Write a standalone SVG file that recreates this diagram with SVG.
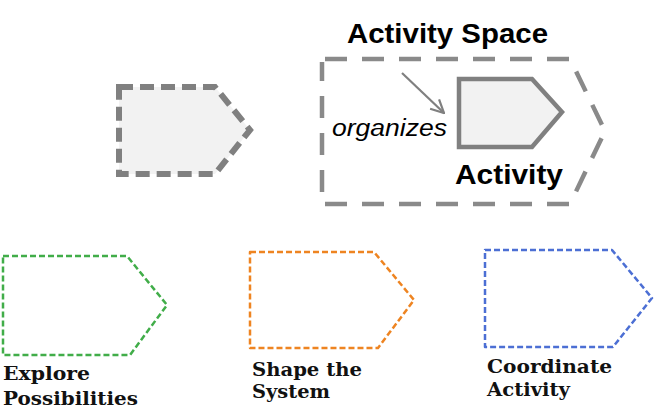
<svg xmlns="http://www.w3.org/2000/svg" width="654" height="412" viewBox="0 0 654 412">
  <style>
    .big { font-family: "Liberation Sans", Arial, sans-serif; font-weight: bold; font-size: 28px; fill: #000; }
    .ital { font-family: "Liberation Sans", Arial, sans-serif; font-style: italic; font-size: 23px; fill: #000; }
    .lbl { font-family: "DejaVu Serif", "Liberation Serif", serif; font-weight: bold; font-size: 18px; fill: #111; }
    .small { fill: none; stroke-width: 2.5; stroke-dasharray: 6 3; stroke-linejoin: round; }
  </style>
  <defs>
    <marker id="open" viewBox="0 0 16 16" refX="15" refY="8" markerWidth="16" markerHeight="16" markerUnits="userSpaceOnUse" orient="auto">
      <path d="M2,1.5 L15,8 L2,14.5" fill="none" stroke="#808080" stroke-width="2.2"/>
    </marker>
  </defs>

  <g id="generic-activity">
    <path d="M119,87 L215,87 L250,130 L215,174 L119,174 Z" fill="#f2f2f2" stroke="#808080" stroke-width="6" stroke-dasharray="14 7"/>
  </g>

  <g id="activity-space">
    <path d="M325,59 L570,59 L605,131 L570,204 L322,204 L322,62" fill="none" stroke="#8a8a8a" stroke-width="4.5" stroke-dasharray="22 15" stroke-linejoin="round"/>
    <text class="big" x="347" y="43" textLength="201" lengthAdjust="spacingAndGlyphs">Activity Space</text>
  </g>

  <g id="activity">
    <path d="M459,79 L532,79 L562,112 L532,147 L459,147 Z" fill="#f2f2f2" stroke="#808080" stroke-width="4.5"/>
    <text class="big" x="455" y="184" textLength="108" lengthAdjust="spacingAndGlyphs">Activity</text>
  </g>

  <g id="connectors">
    <line x1="402" y1="73" x2="444" y2="113" stroke="#808080" stroke-width="2.2" marker-end="url(#open)"/>
    <text class="ital" x="332" y="136" textLength="115" lengthAdjust="spacingAndGlyphs">organizes</text>
  </g>

  <g id="explore-possibilities">
    <path class="small" stroke="#41ad49" d="M3,256 L127,256 L167,305 L130,355 L3,355 Z"/>
    <text class="lbl" x="3" y="380" textLength="87" lengthAdjust="spacingAndGlyphs">Explore</text>
    <text class="lbl" x="3" y="405" textLength="135" lengthAdjust="spacingAndGlyphs">Possibilities</text>
  </g>

  <g id="shape-the-system">
    <path class="small" stroke="#ee8421" d="M250,252 L374,252 L414,300 L378,348 L250,348 Z"/>
    <text class="lbl" x="252" y="376" textLength="110" lengthAdjust="spacingAndGlyphs">Shape the</text>
    <text class="lbl" x="252" y="398" textLength="78" lengthAdjust="spacingAndGlyphs">System</text>
  </g>

  <g id="coordinate-activity">
    <path class="small" stroke="#4c6fd4" d="M485,250 L612,250 L652,298 L613,347 L485,347 Z"/>
    <text class="lbl" x="487" y="373" textLength="125" lengthAdjust="spacingAndGlyphs">Coordinate</text>
    <text class="lbl" x="487" y="396" textLength="83" lengthAdjust="spacingAndGlyphs">Activity</text>
  </g>
</svg>
